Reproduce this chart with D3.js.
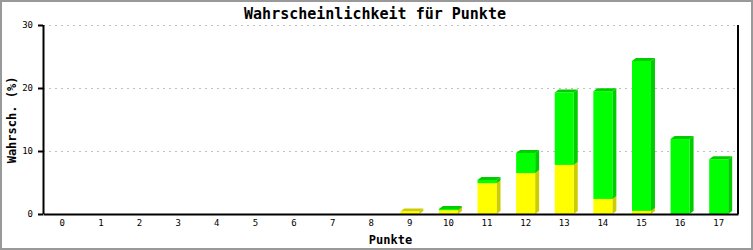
<!DOCTYPE html>
<html>
<head>
<meta charset="utf-8">
<script src="https://cdnjs.cloudflare.com/ajax/libs/d3/7.8.5/d3.min.js"></script>
<style>
  body { margin: 0; background: #fff; }
  text { font-family: "DejaVu Sans Mono", "Liberation Mono", monospace; }
</style>
</head>
<body>
<div id="chart"></div>
<script>
// Points 0..17
var categories = ['0', '1', '2', '3', '4', '5', '6', '7', '8', '9', '10', '11', '12', '13', '14', '15', '16', '17'];
// yellow (lower) series, percent
var yellowValues = [0, 0, 0, 0, 0, 0, 0, 0, 0, 0.4, 0.6, 4.9, 6.5, 7.8, 2.4, 0.5, 0, 0];
// green (upper) series, percent
var greenValues = [0, 0, 0, 0, 0, 0, 0, 0, 0, 0, 0.2, 0.5, 3.2, 11.5, 17.1, 23.8, 11.9, 8.7];
var yTicks = [0, 10, 20, 30];

var W = 753, H = 250;
var margin = { top: 25, right: 15, bottom: 36, left: 43 };
var width = W - margin.left - margin.right,
    height = H - margin.top - margin.bottom;

var svg = d3.select('#chart')
    .append('svg')
    .attr('width', W)
    .attr('height', H);

// frame
svg.append('rect')
    .attr('x', 1).attr('y', 1)
    .attr('width', W - 2).attr('height', H - 2)
    .attr('fill', '#fff')
    .attr('stroke', '#999')
    .attr('stroke-width', 2);

var g = svg.append('g')
    .attr('transform', 'translate(' + margin.left + ',' + margin.top + ')');

var x = d3.scaleBand()
    .domain(categories)
    .range([0, width]);

var y = d3.scaleLinear()
    .domain([0, 30])
    .range([height, 0]);

// grid
g.selectAll('.grid')
    .data(yTicks.filter(function(d) { return d > 0; }))
    .enter()
    .append('line')
    .attr('x1', 0).attr('x2', width)
    .attr('y1', function(d) { return Math.round(y(d)) + 0.5; })
    .attr('y2', function(d) { return Math.round(y(d)) + 0.5; })
    .attr('stroke', '#c0c0c0')
    .attr('stroke-dasharray', '2,4');

// stacked 3D bars
var barW = 19, dx = 4, dy = 3;
var stacks = categories.map(function(c, i) {
    return [
        { cat: c, y0: 0, y1: yellowValues[i], front: '#ffff00', side: '#cccc00' },
        { cat: c, y0: yellowValues[i], y1: yellowValues[i] + greenValues[i], front: '#00ff00', side: '#00cc00' }
    ];
});

stacks.forEach(function(segs) {
    segs.forEach(function(s) {
        if (s.y1 - s.y0 <= 0) return;
        var x0 = x(s.cat) + (x.bandwidth() - barW) / 2;
        var yt = y(s.y1), yb = y(s.y0);
        // right side face
        g.append('path')
            .attr('d', 'M' + (x0 + barW) + ',' + yb + 'L' + (x0 + barW + dx) + ',' + (yb - dy) +
                'L' + (x0 + barW + dx) + ',' + (yt - dy) + 'L' + (x0 + barW) + ',' + yt + 'Z')
            .attr('fill', s.side);
        // top face
        g.append('path')
            .attr('d', 'M' + x0 + ',' + yt + 'L' + (x0 + dx) + ',' + (yt - dy) +
                'L' + (x0 + barW + dx) + ',' + (yt - dy) + 'L' + (x0 + barW) + ',' + yt + 'Z')
            .attr('fill', s.side);
        // front face
        g.append('rect')
            .attr('x', x0)
            .attr('y', yt)
            .attr('width', barW)
            .attr('height', yb - yt)
            .attr('fill', s.front);
    });
});

// axes
var yAxis = d3.axisLeft(y)
    .tickValues(yTicks)
    .tickSize(5)
    .tickPadding(5)
    .tickFormat(d3.format('d'));

var yAxisG = g.append('g')
    .attr('class', 'y-axis')
    .call(yAxis);
yAxisG.select('.domain').attr('d', 'M0.5,0V' + height).attr('stroke', '#000').attr('stroke-width', 2);
yAxisG.selectAll('.tick line').attr('stroke', '#000').attr('stroke-width', 2);
yAxisG.selectAll('text').attr('font-size', '9px').attr('fill', '#000');

var xAxis = d3.axisBottom(x)
    .tickSize(0)
    .tickPadding(6);

var xAxisG = g.append('g')
    .attr('class', 'x-axis')
    .attr('transform', 'translate(0,' + height + ')')
    .call(xAxis);
xAxisG.select('.domain').attr('stroke', '#000').attr('stroke-width', 2);
xAxisG.selectAll('text').attr('font-size', '9px').attr('fill', '#000');

// right border line
g.append('line')
    .attr('x1', width).attr('x2', width)
    .attr('y1', 0).attr('y2', height)
    .attr('stroke', '#000')
    .attr('stroke-width', 2);

// title
svg.append('text')
    .attr('x', 375)
    .attr('y', 19)
    .attr('text-anchor', 'middle')
    .attr('font-size', '15px')
    .attr('font-weight', 'bold')
    .text('Wahrscheinlichkeit für Punkte');

// axis labels
svg.append('text')
    .attr('x', margin.left + width / 2)
    .attr('y', 244)
    .attr('text-anchor', 'middle')
    .attr('font-size', '12px')
    .attr('font-weight', 'bold')
    .text('Punkte');

svg.append('text')
    .attr('transform', 'translate(16,120) rotate(-90)')
    .attr('text-anchor', 'middle')
    .attr('font-size', '12px')
    .attr('font-weight', 'bold')
    .text('Wahrsch. (%)');
</script>
</body>
</html>
